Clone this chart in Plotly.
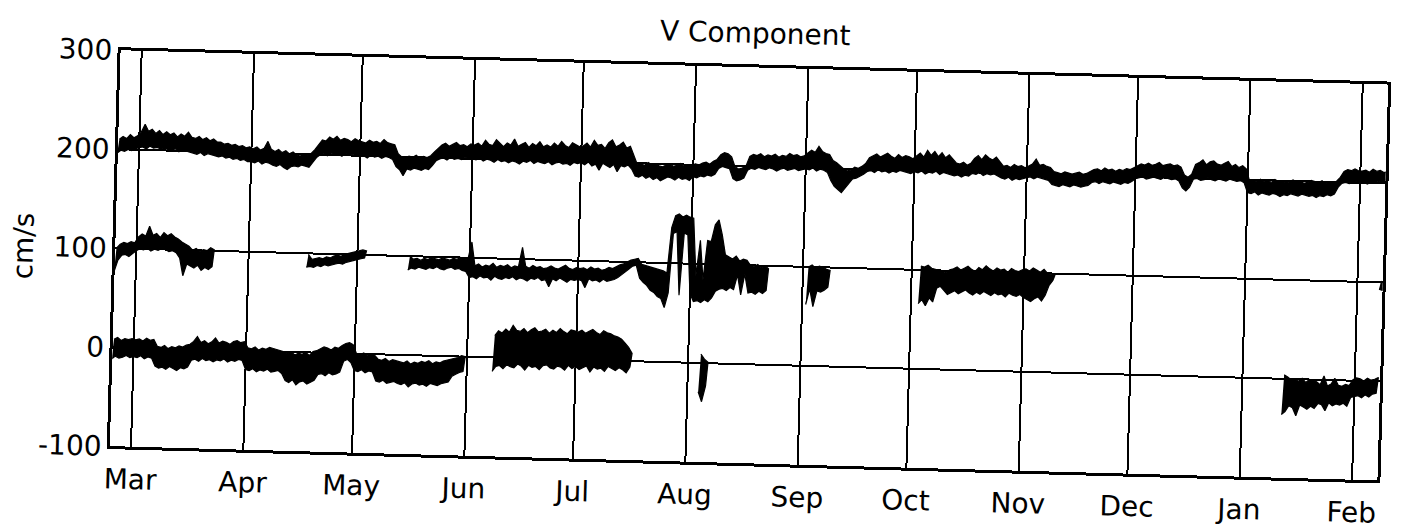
import pandas as pd
import plotly.graph_objects as go

# ---------------- axes / labels ----------------
months = ["Mar", "Apr", "May", "Jun", "Jul", "Aug", "Sep", "Oct", "Nov", "Dec", "Jan", "Feb"]
month_starts = ["1997-03-01", "1997-04-01", "1997-05-01", "1997-06-01", "1997-07-01",
                "1997-08-01", "1997-09-01", "1997-10-01", "1997-11-01", "1997-12-01",
                "1998-01-01", "1998-02-01"]
x_range = ["1997-02-23 04:00", "1998-02-08 00:00"]
y_ticks = [-100, 0, 100, 200, 300]
y_tick_labels = ["-100", "0", "100", "200", "300"]
title_text = "V Component"
y_title = "cm/s"

# ---------------- top record (offset +200), daily low / high envelope ----------------
a_start = "1997-02-23"
a_lo = [196, 199, 198, 200, 199, 201,
        202, 203, 201, 204, 202, 203, 201, 202, 201, 200, 202, 199, 201, 200, 199, 198, 197, 199, 196, 198, 197, 196, 195, 196, 194, 195, 193, 194, 192, 193, 191,
        191, 190, 192, 189, 191, 190, 188, 187, 189, 186, 184, 187, 188, 187, 189, 188, 187, 192, 197, 200, 201, 199, 202, 200, 201, 199, 202, 200, 201, 200,
        199, 200, 198, 201, 199, 200, 198, 200, 199, 197, 190, 187, 181, 188, 187, 189, 188, 187, 189, 188, 192, 197, 199, 200, 198, 201, 199, 200, 199, 201, 200,
        200, 199, 201, 198, 200, 199, 197, 200, 198, 199, 197, 199, 198, 196, 199, 198, 200, 197, 199, 198, 197, 199, 196, 198, 199, 197, 198, 196, 199, 198,
        199, 197, 200, 196, 198, 192, 199, 197, 195, 198, 191, 197, 196, 198, 194, 187, 186, 188, 185, 187, 184, 186, 183, 185, 187, 186, 184, 187, 185, 186, 184,
        188, 187, 189, 188, 190, 189, 191, 197, 199, 198, 197, 187, 185, 186, 188, 196, 198, 197, 199, 198, 197, 199, 198, 196, 198, 199, 197, 198, 199, 197, 198,
        199, 198, 200, 197, 199, 198, 196, 188, 182, 179, 176, 181, 185, 190, 191, 193, 195, 198, 199, 197, 200, 198, 199, 197, 199, 198, 200, 199, 198, 197,
        199, 198, 200, 197, 199, 198, 200, 197, 199, 198, 197, 196, 197, 195, 197, 196, 199, 198, 200, 197, 199, 198, 199, 197, 195, 194, 196, 193, 195, 194, 195,
        196, 197, 195, 197, 196, 195, 194, 190, 189, 188, 190, 189, 188, 190, 189, 188, 189, 190, 193, 194, 192, 194, 193, 192, 194, 193, 192, 194, 193, 195,
        198, 199, 200, 198, 199, 200, 199, 198, 200, 199, 198, 199, 197, 190, 187, 191, 199, 200, 198, 199, 201, 199, 198, 200, 199, 198, 200, 199, 198, 199, 197,
        187, 186, 188, 185, 187, 186, 185, 187, 186, 184, 186, 185, 187, 186, 185, 187, 186, 185, 186, 184, 186, 185, 187, 186, 188, 195, 199, 200, 199, 200, 201,
        200, 201, 199, 201, 200, 202, 200, 201]
a_hi = [210, 213, 211, 215, 212, 214,
        218, 226, 219, 221, 217, 220, 216, 219, 216, 218, 214, 217, 215, 219, 214, 213, 215, 212, 214, 211, 213, 210, 210, 208, 209, 207, 208, 206, 207, 205, 206,
        204, 206, 203, 205, 212, 204, 202, 204, 201, 203, 200, 202, 199, 198, 200, 199, 201, 205, 210, 215, 214, 218, 216, 219, 215, 217, 216, 214, 217, 215,
        214, 213, 216, 214, 215, 213, 217, 214, 213, 212, 203, 200, 199, 201, 200, 202, 199, 201, 200, 202, 206, 210, 213, 215, 212, 214, 216, 213, 214, 212, 215,
        214, 216, 213, 219, 215, 214, 220, 216, 213, 217, 215, 221, 214, 216, 218, 213, 217, 215, 219, 214, 216, 214, 218, 215, 220, 216, 214, 219, 217, 215,
        216, 219, 215, 222, 217, 218, 214, 220, 223, 216, 218, 221, 215, 217, 208, 199, 200, 198, 201, 199, 200, 198, 197, 199, 200, 198, 199, 201, 198, 200, 199,
        201, 200, 202, 203, 201, 204, 206, 211, 213, 212, 209, 199, 197, 198, 200, 210, 212, 211, 213, 210, 212, 211, 213, 210, 212, 211, 214, 212, 213, 211, 212,
        215, 218, 216, 222, 217, 215, 214, 208, 206, 203, 200, 198, 199, 202, 201, 203, 206, 212, 214, 216, 213, 215, 217, 214, 212, 216, 213, 215, 214, 212,
        215, 218, 214, 221, 216, 220, 215, 219, 214, 217, 213, 209, 208, 210, 207, 209, 214, 217, 213, 218, 215, 213, 216, 212, 207, 208, 206, 209, 207, 208, 206,
        208, 210, 215, 209, 210, 208, 207, 203, 202, 201, 203, 202, 201, 202, 203, 201, 202, 204, 206, 207, 205, 208, 206, 207, 205, 207, 206, 208, 207, 209,
        211, 213, 212, 214, 212, 213, 215, 212, 213, 214, 212, 213, 211, 203, 201, 204, 214, 216, 219, 214, 217, 218, 215, 214, 216, 218, 213, 215, 212, 214, 211,
        199, 200, 198, 201, 199, 200, 198, 201, 199, 200, 198, 199, 201, 199, 200, 198, 199, 201, 200, 199, 201, 198, 200, 199, 201, 205, 211, 213, 212, 214, 212,
        212, 213, 211, 214, 212, 213, 211, 212]

# ---------------- middle record (offset +100), segments ----------------
b1_start = "1997-02-23"
b1_lo = [76, 88, 93, 94, 92, 95,
         98, 100, 99, 101, 98, 100, 99, 101, 100, 98, 99, 97, 92, 74, 86, 84, 82, 85, 80, 83, 81, 84]
b1_hi = [100, 104, 106, 105, 107, 106,
         112, 115, 113, 123, 114, 116, 112, 117, 114, 116, 113, 111, 108, 106, 104, 100, 102, 99, 101, 100, 103, 101]

b2_start = "1997-04-17"
b2_lo = [86, 87, 86, 88, 87, 89, 88, 89, 90, 91, 90, 92, 93, 94, 95, 96, 97]
b2_hi = [99, 94, 95, 96, 95, 97, 96, 98, 99, 98, 100, 101, 102, 103, 104, 105, 104]

b3_start = "1997-05-15"
b3_lo = [86, 88, 87, 89, 88, 87, 89, 88, 90, 88, 87, 89, 90, 88, 89, 87, 86,
         80, 81, 79, 82, 80, 81, 78, 82, 80, 79, 81, 80, 82, 79, 81, 80, 78, 81, 80, 82, 79, 80, 73, 81, 79, 82, 80, 78, 81, 80,
         81, 80, 73, 82, 80, 81, 79, 82, 80, 81, 82, 84, 87, 90, 93, 96, 97, 84, 80, 77, 72, 70, 66, 64, 55, 70, 130, 132, 68, 131, 129,
         70, 62, 63, 61, 64, 62, 66, 73, 75, 76, 74, 77, 75, 90, 70, 91, 72, 73, 71, 74, 72, 75]
b3_hi = [100, 97, 98, 96, 98, 97, 99, 98, 97, 99, 98, 97, 99, 98, 100, 99, 98,
         116, 92, 94, 91, 93, 92, 95, 91, 93, 92, 94, 91, 93, 92, 112, 93, 91, 94, 92, 93, 91, 92, 94, 92, 91, 93, 95, 92, 91, 93,
         92, 93, 91, 94, 92, 93, 91, 92, 94, 93, 95, 97, 98, 100, 102, 103, 104, 98, 97, 96, 95, 94, 93, 92, 90, 136, 148, 150, 147, 149, 147,
         146, 88, 124, 84, 124, 123, 140, 145, 130, 110, 108, 106, 109, 104, 106, 105, 100, 99, 101, 98, 100, 97]

b4_start = "1997-09-02"
b4_lo = [62, 78, 60, 76, 75, 77, 80]
b4_hi = [100, 102, 99, 101, 100, 98, 97]

b5_start = "1997-10-03"
b5_lo = [66, 70, 64, 72, 68,
         82, 84, 80, 76, 78, 80, 77, 79, 81, 78, 76, 79, 77, 80, 78, 76, 79, 77, 78, 75, 79, 77, 76, 78,
         75, 73, 71, 74, 76, 72, 78, 88, 93]
b5_hi = [104, 103, 105, 102, 101,
         100, 99, 98, 101, 102, 104, 101, 103, 105, 102, 100, 104, 102, 106, 103, 101, 104, 102, 103, 100, 104, 102, 101, 103,
         104, 102, 105, 103, 101, 104, 100, 99, 98]

b6_start = "1998-02-07"
b6_lo = [93, 92]
b6_hi = [101, 100]

# ---------------- bottom record (offset 0), segments ----------------
c1_start = "1997-02-23"
c1_lo = [-12, -9, -11, -10, -8, -10,
         -9, -10, -8, -11, -9, -10, -18, -20, -19, -21, -18, -20, -22, -19, -20, -18,
         -11, -10, -12, -9, -11, -10, -12, -10, -11, -9, -12, -10, -11, -9, -10,
         -19, -20, -18, -21, -19, -20, -18, -21, -20, -19, -22, -29, -31, -28, -33, -30, -29, -32, -30, -28,
         -22, -21, -23, -20, -22, -21, -19, -8, -6, -9,
         -17, -18, -16, -19, -17, -18, -27, -28, -26, -29, -28, -27,
         -29, -30, -28, -32, -29, -28, -30, -29, -31, -28, -29, -30, -28, -27, -26, -20, -18, -16, -15]
c1_hi = [8, 10, 7, 9, 8, 9,
         8, 9, 7, 10, 8, 9, 2, 1, 3, 0, 2, 1, 3, 2, 4, 5,
         8, 13, 7, 9, 6, 8, 12, 7, 9, 8, 6, 9, 10, 8, 9,
         3, 2, 4, 1, 3, 2, 4, 3, 2, 1, 0, -2, 0, -3, -1, -2, 0, -3, 1, 2,
         4, 6, 5, 3, 6, 5, 8, 10, 11, 9,
         0, -1, 1, -2, 0, -1, -5, -6, -4, -7, -5, -6,
         -7, -8, -6, -9, -7, -8, -6, -7, -5, -8, -6, -7, -5, -4, -3, -2, -1, 1, 0]

c2_start = "1997-06-08"
c2_lo = [-14, -9, -8, -11, -7, -9, -10, -6, -8, -12, -7, -9, -8, -11, -7, -6, -9, -10, -7, -8, -11, -6, -9,
         -7, -10, -8, -6, -12, -7, -9, -8, -11, -6, -8, -10, -7, -9, -12, -6]
c2_hi = [22, 27, 25, 29, 26, 33, 28, 27, 30, 26, 29, 31, 27, 28, 30, 26, 29, 27, 31, 28, 26, 30, 29,
         28, 30, 27, 29, 31, 28, 26, 30, 28, 27, 25, 24, 22, 18, 14, 8]

c3_start = "1997-08-04"
c3_lo = [-29, -39, -23]
c3_hi = [9, 4, 1]

c4_start = "1998-01-12"
c4_lo = [-36, -33, -27, -29, -37, -26, -28, -30, -27, -29,
         -24, -25, -31, -23, -26, -24, -25, -23, -26, -17,
         -16, -15, -17, -14, -16, -13, -12]
c4_hi = [4, 2, -1, 0, -2, 1, -3, 0, -1, -2,
         -5, 4, -6, -4, 2, -5, -6, -4, -5, 1,
         3, 2, 0, 3, 1, 2, 4]

segments = [
    (a_start, a_lo, a_hi),
    (b1_start, b1_lo, b1_hi), (b2_start, b2_lo, b2_hi), (b3_start, b3_lo, b3_hi),
    (b4_start, b4_lo, b4_hi), (b5_start, b5_lo, b5_hi), (b6_start, b6_lo, b6_hi),
    (c1_start, c1_lo, c1_hi), (c2_start, c2_lo, c2_hi), (c3_start, c3_lo, c3_hi),
    (c4_start, c4_lo, c4_hi),
]

FONT = "'DejaVu Sans', Verdana, sans-serif"
fig = go.Figure()
for start, lo, hi in segments:
    assert len(lo) == len(hi), (start, len(lo), len(hi))
    days = pd.date_range(start, periods=len(lo), freq="D")
    hi_t = [d + pd.Timedelta(hours=12) for d in days]
    # envelope of the dense record: upper edge forward, lower edge back
    xs = hi_t + list(days)[::-1]
    ys = list(hi) + list(lo)[::-1]
    fig.add_trace(go.Scatter(x=xs, y=ys, mode="lines", fill="toself",
                             fillcolor="black",
                             line=dict(color="black", width=1.2),
                             showlegend=False, hoverinfo="skip"))

fig.update_layout(
    width=1401, height=529,
    margin=dict(l=115, r=18, t=66, b=67),
    paper_bgcolor="white", plot_bgcolor="white",
    font=dict(family=FONT, color="black", size=28),
    title=dict(text=title_text, xref="paper", x=0.5, xanchor="center",
               yref="container", y=1 - 31.6 / 529, yanchor="middle",
               font=dict(family=FONT, size=28, color="black")),
    showlegend=False,
)
fig.update_xaxes(type="date", range=x_range, tickmode="array",
                 tickvals=month_starts, ticktext=months,
                 showgrid=True, gridcolor="black", gridwidth=2.2,
                 showline=True, linecolor="black", linewidth=2.5, mirror=True,
                 ticks="", tickfont=dict(family=FONT, size=28, color="black"),
                 ticklabelstandoff=6)
fig.update_yaxes(range=[-100, 300], tickmode="array", tickvals=y_ticks,
                 ticktext=y_tick_labels,
                 showgrid=True, gridcolor="black", gridwidth=2.2, zeroline=False,
                 showline=True, linecolor="black", linewidth=2.5, mirror=True,
                 ticks="", tickfont=dict(family=FONT, size=28, color="black"),
                 ticklabelstandoff=0)
fig.add_annotation(text=y_title, textangle=-90, xref="paper", yref="paper",
                   x=(22.7 - 115) / 1268, y=0.5, xanchor="center", yanchor="middle",
                   showarrow=False, font=dict(family=FONT, size=28, color="black"))

# the reference is a slightly tilted scan: reproduce the tilt of the whole page
post = ("document.documentElement.style.overflow='hidden';"
        "document.body.style.margin='0';document.body.style.overflow='hidden';"
        "var g=document.getElementById('{plot_id}');"
        "g.style.transformOrigin='700.5px 264.5px';"
        "g.style.transform='rotate(1.55deg)';")
fig.write_html("out.html", post_script=post)
